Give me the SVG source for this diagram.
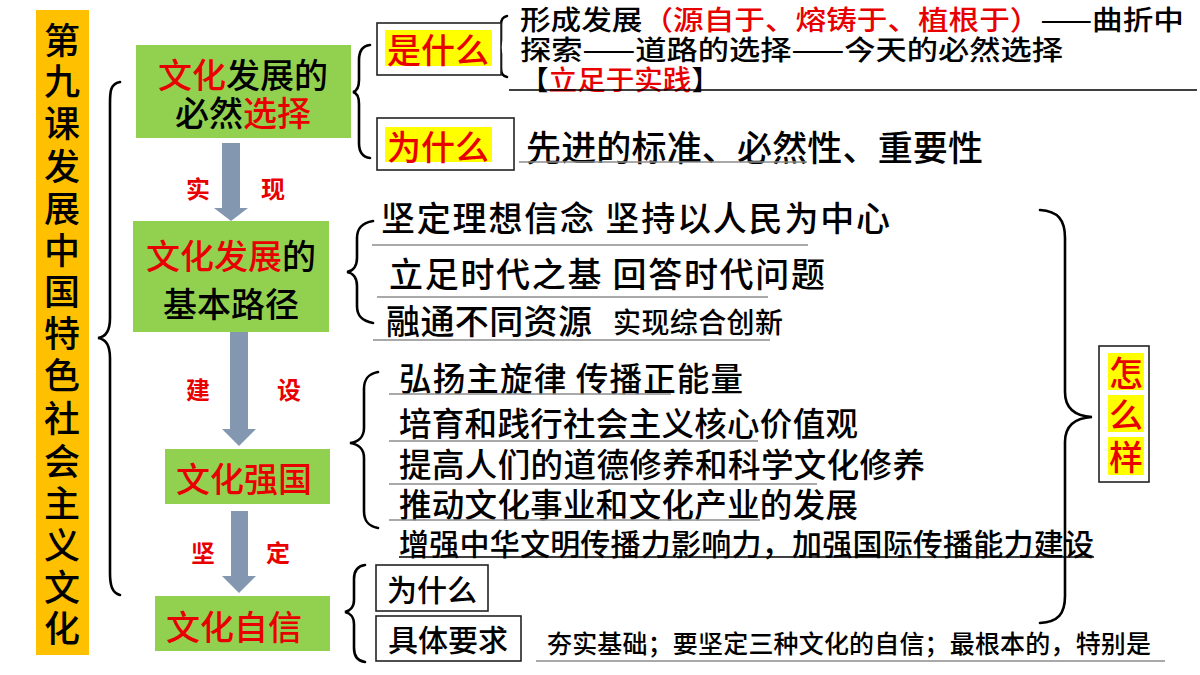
<svg xmlns="http://www.w3.org/2000/svg" width="1200" height="675" viewBox="0 0 1200 675">
<style>
text{font-family:"Noto Sans CJK SC","Noto Sans",sans-serif;dominant-baseline:central;fill:#000;font-weight:500}
.r{fill:#E80000}
.g{fill:#92D050}
.box{fill:#fff;stroke:#222;stroke-width:1.6}
.hl{fill:#FFFF00}
.br{fill:none;stroke:#000;stroke-width:2.6;stroke-linecap:round}
.ul{stroke:#8c8c8c;stroke-width:1.6}
.ulb{stroke:#000;stroke-width:1.6}
.arr{fill:#8497B0}
.lab{font-size:24px;fill:#E80000;font-weight:bold}
.t34{font-size:34px}
</style>
<rect width="1200" height="675" fill="#fff"/>

<g id="title">
<rect x="36" y="10" width="53" height="645" fill="#FFC000"/>
<g font-size="36" text-anchor="middle">
<text x="62" y="38">第</text><text x="62" y="79">九</text><text x="62" y="121">课</text><text x="62" y="164">发</text><text x="62" y="206">展</text><text x="62" y="248">中</text><text x="62" y="289">国</text><text x="62" y="331">特</text><text x="62" y="373">色</text><text x="62" y="416">社</text><text x="62" y="459">会</text><text x="62" y="501">主</text><text x="62" y="543">义</text><text x="62" y="585">文</text><text x="62" y="626">化</text>
</g>
</g>

<g id="connectors">
<path class="br" d="M120,82 C110,84 110,92 110,104 L110,318 C110,330 106,337 98,338 C106,339 110,346 110,358 L110,573 C110,585 112,593 120,595"/>
<path class="br" d="M370,45 C362,46 359,51 359,60 L359,80 C359,88 357,91 353,92 C357,93 359,96 359,104 L359,143 C359,152 362,157 370,158"/>
<path class="br" d="M507,16 C502,17 501,20 501,25 L501,40 C501,45 499,47 497,47 C499,47 501,49 501,54 L501,68 C501,73 502,76 507,77" stroke-width="2"/>
<path class="br" d="M373,221 C362,223 357,228 357,238 L357,258 C357,266 353,271 347,272 C353,273 357,278 357,286 L357,306 C357,316 362,321 373,323"/>
<path class="br" d="M378,372 C368,374 364,379 364,389 L364,428 C364,437 358,442 350,443 C358,444 364,449 364,458 L364,511 C364,521 368,526 378,528"/>
<path class="br" d="M365,565 C358,566 354,571 354,579 L354,600 C354,607 350,611 345,612 C350,613 354,617 354,624 L354,648 C354,656 358,661 365,662"/>
<path class="br" d="M1040,210 C1058,211 1065,220 1065,238 L1065,392 C1065,408 1075,416 1092,417 C1075,418 1065,426 1065,442 L1065,596 C1065,614 1058,622 1040,623" stroke-width="3.2"/>
<polygon class="arr" points="222,143 240,143 240,208 248,208 231,221 214,208 222,208"/>
<polygon class="arr" points="230,330 248,330 248,429 256,429 239,446 222,429 230,429"/>
<polygon class="arr" points="231,511 248,511 248,576 256,576 239,593 222,576 231,576"/>
<text class="lab" x="198" y="187" text-anchor="middle">实</text>
<text class="lab" x="273" y="187" text-anchor="middle">现</text>
<text class="lab" x="198" y="388" text-anchor="middle">建</text>
<text class="lab" x="289" y="388" text-anchor="middle">设</text>
<text class="lab" x="203" y="551" text-anchor="middle">坚</text>
<text class="lab" x="278" y="551" text-anchor="middle">定</text>
</g>

<g id="node-choice">
<rect class="g" x="136" y="45" width="215" height="93"/>
<text class="t34" x="243" y="73" text-anchor="middle"><tspan class="r">文化</tspan>发展的</text>
<text class="t34" x="243" y="111" text-anchor="middle">必然<tspan class="r">选择</tspan></text>
</g>

<g id="node-path">
<rect class="g" x="133" y="221" width="196" height="111"/>
<text class="t34" x="231" y="254" text-anchor="middle"><tspan class="r">文化发展</tspan>的</text>
<text class="t34" x="231" y="302" text-anchor="middle">基本路径</text>
</g>

<g id="node-power">
<rect class="g" x="165" y="449" width="165" height="55"/>
<text class="t34 r" x="244" y="477" text-anchor="middle">文化强国</text>
</g>

<g id="node-confidence">
<rect class="g" x="155" y="596" width="175" height="55"/>
<text class="t34 r" x="234" y="625" text-anchor="middle">文化自信</text>
</g>

<g id="node-what">
<rect class="box" x="377" y="23" width="124" height="52"/>
<rect class="hl" x="385" y="30" width="107" height="36"/>
<text class="t34 r" x="438" y="48" text-anchor="middle">是什么</text>
</g>

<g id="what-detail" font-size="27">
<text x="520" y="18" textLength="664" lengthAdjust="spacingAndGlyphs"><tspan>形成发展</tspan><tspan class="r">（源自于、熔铸于、植根于）</tspan>——曲折中</text>
<text x="520" y="48" textLength="543" lengthAdjust="spacingAndGlyphs">探索——道路的选择——今天的必然选择</text>
<text x="520" y="78" textLength="200" lengthAdjust="spacingAndGlyphs">【<tspan class="r">立足于实践</tspan>】</text>
<line class="ulb" x1="509" y1="90" x2="1197" y2="90"/>
</g>

<g id="node-why1">
<rect class="box" x="377" y="118" width="137" height="52"/>
<rect class="hl" x="385" y="127" width="107" height="35"/>
<text class="t34 r" x="438" y="145" text-anchor="middle">为什么</text>
</g>

<g id="why1-detail">
<text x="526" y="145" font-size="35" textLength="457">先进的标准、必然性、重要性</text>
<line class="ul" x1="519" y1="162" x2="807" y2="162"/>
</g>

<g id="path-items">
<text x="381" y="216" font-size="34" textLength="509">坚定理想信念 坚持以人民为中心</text>
<line class="ul" x1="372" y1="245" x2="808" y2="245"/>
<text x="389" y="272" font-size="34" textLength="436">立足时代之基 回答时代问题</text>
<line class="ul" x1="377" y1="297" x2="768" y2="297"/>
<text x="386" y="319" font-size="34" textLength="206">融通不同资源</text>
<text x="613" y="321" font-size="28" textLength="170">实现综合创新</text>
<line class="ul" x1="373" y1="340" x2="770" y2="340"/>
</g>

<g id="power-items" font-size="32.5">
<text x="399" y="376" textLength="344">弘扬主旋律 传播正能量</text>
<line class="ul" x1="389" y1="394" x2="671" y2="394"/>
<text x="399" y="421" textLength="459">培育和践行社会主义核心价值观</text>
<line class="ul" x1="389" y1="441" x2="758" y2="441"/>
<text x="399" y="462" textLength="526">提高人们的道德修养和科学文化修养</text>
<line class="ul" x1="389" y1="484" x2="817" y2="484"/>
<text x="399" y="502" textLength="459">推动文化事业和文化产业的发展</text>
<line class="ul" x1="389" y1="520" x2="760" y2="520"/>
<text x="399" y="542" font-size="30" textLength="695">增强中华文明传播力影响力，加强国际传播能力建设</text>
<line class="ulb" x1="399" y1="557" x2="1094" y2="557" stroke-width="2"/>
</g>

<g id="node-how">
<rect class="box" x="1099" y="346" width="50" height="136"/>
<rect class="hl" x="1108" y="353" width="36" height="37"/>
<rect class="hl" x="1108" y="395" width="36" height="37"/>
<rect class="hl" x="1108" y="437" width="36" height="38"/>
<g font-size="34" text-anchor="middle">
<text class="r" x="1126" y="371">怎</text>
<text class="r" x="1126" y="413">么</text>
<text class="r" x="1126" y="455">样</text>
</g>
</g>

<g id="node-why2">
<rect class="box" x="376" y="565" width="112" height="46"/>
<text x="432" y="588" font-size="30" text-anchor="middle">为什么</text>
</g>

<g id="node-require">
<rect class="box" x="376" y="616" width="145" height="45"/>
<text x="448" y="638" font-size="30" text-anchor="middle">具体要求</text>
</g>

<g id="require-detail">
<text x="547" y="642" font-size="25" textLength="604">夯实基础；要坚定三种文化的自信；最根本的，特别是</text>
<line class="ul" x1="536" y1="661" x2="1165" y2="661"/>
</g>
</svg>
